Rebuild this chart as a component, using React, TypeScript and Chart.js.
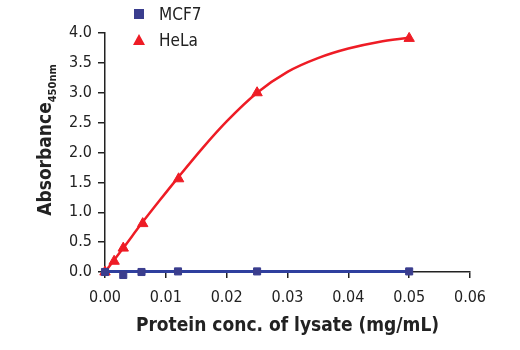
import React, { useEffect, useRef } from "react";
import { Chart, registerables } from "chart.js";

Chart.register(...registerables);

// Measured points
const mcf7Conc = [0, 0.003, 0.006, 0.012, 0.025, 0.05];
const mcf7Values = [0.0, -0.05, 0.0, 0.01, 0.01, 0.01];
const helaConc = [0, 0.0015, 0.003, 0.0062, 0.0121, 0.025, 0.05];
const helaValues = [0.0, 0.18, 0.4, 0.81, 1.56, 3.0, 3.91];
// Fitted curves
const mcf7FitConc = [0, 0.05];
const mcf7FitValues = [0.01, 0.01];
const helaFitConc = [0, 0.003, 0.006, 0.009, 0.012, 0.016, 0.02, 0.025, 0.03, 0.035, 0.04, 0.045, 0.05];
const helaFitValues = [0.0, 0.4, 0.81, 1.2, 1.58, 2.07, 2.52, 3.0, 3.35, 3.58, 3.74, 3.85, 3.92];
const xTicks = [0, 0.01, 0.02, 0.03, 0.04, 0.05, 0.06];
const yTicks = [0, 0.5, 1.0, 1.5, 2.0, 2.5, 3.0, 3.5, 4.0];
const seriesNames = ["MCF7", "HeLa"];

const BLUE = "#3a3d8e";
const BLUE_LINE = "#2f3f9e";
const RED = "#ee1c25";
const FONT = "'Liberation Sans Narrow', 'DejaVu Sans Condensed', 'Roboto', sans-serif";

export default function App() {
  const ref = useRef<HTMLCanvasElement | null>(null);

  useEffect(() => {
    document.body.style.margin = "0";
    const ctx = ref.current!.getContext("2d")!;
    const chart = new Chart(ctx, {
      type: "scatter",
      data: {
        datasets: [
          {
            label: seriesNames[0],
            data: mcf7Conc.map((x, i) => ({ x, y: mcf7Values[i] })),
            showLine: false,
            backgroundColor: BLUE,
            pointBackgroundColor: BLUE,
            pointBorderColor: BLUE,
            pointStyle: "rect",
            pointRadius: 5,
            pointBorderWidth: 1,
            clip: false as any,
          },
          {
            label: seriesNames[0] + " fit",
            data: mcf7FitConc.map((x, i) => ({ x, y: mcf7FitValues[i] })),
            showLine: true,
            borderColor: BLUE_LINE,
            borderWidth: 3,
            pointRadius: 0,
            clip: false as any,
          },
          {
            label: seriesNames[1],
            data: helaConc.map((x, i) => ({ x, y: helaValues[i] })),
            showLine: false,
            backgroundColor: RED,
            pointBackgroundColor: RED,
            pointBorderColor: RED,
            pointStyle: "triangle",
            pointRadius: 6,
            pointBorderWidth: 1,
            clip: false as any,
          },
          {
            label: seriesNames[1] + " fit",
            data: helaFitConc.map((x, i) => ({ x, y: helaFitValues[i] })),
            showLine: true,
            cubicInterpolationMode: "monotone",
            borderColor: RED,
            borderWidth: 2.5,
            pointRadius: 0,
            clip: false as any,
          },
        ],
      },
      options: {
        animation: false,
        responsive: false,
        maintainAspectRatio: false,
        layout: { padding: { left: 0, right: 50, top: 33, bottom: 0 } },
        plugins: {
          legend: { display: false },
          tooltip: { enabled: false },
        },
        scales: {
          x: {
            type: "linear",
            min: 0,
            max: 0.06,
            afterBuildTicks: (scale: any) => {
              scale.ticks = xTicks.map((v) => ({ value: v }));
            },
            afterFit: (scale: any) => {
              scale.height = 78;
            },
            grid: {
              drawOnChartArea: false,
              drawTicks: true,
              tickLength: 6,
              color: "#222",
              lineWidth: 1.5,
            },
            border: { color: "#222", width: 1.5 },
            ticks: {
              color: "#222",
              padding: 10,
              font: { family: FONT, size: 16 },
              callback: (v: any) => Number(v).toFixed(2),
            },
            title: {
              display: true,
              text: "Protein conc. of lysate (mg/mL)",
              color: "#222",
              font: { family: FONT, size: 19, weight: "bold" },
              padding: { top: 0, bottom: 13 },
            },
          },
          y: {
            type: "linear",
            min: 0,
            max: 4,
            afterBuildTicks: (scale: any) => {
              scale.ticks = yTicks.map((v) => ({ value: v }));
            },
            afterFit: (scale: any) => {
              scale.width = 105;
            },
            grid: {
              drawOnChartArea: false,
              drawTicks: true,
              tickLength: 7,
              color: "#222",
              lineWidth: 1.5,
            },
            border: { color: "#222", width: 1.5 },
            ticks: {
              color: "#222",
              padding: 6,
              font: { family: FONT, size: 16 },
              callback: (v: any) => Number(v).toFixed(1),
            },
          },
        },
      },
    } as any);
    return () => chart.destroy();
  }, []);

  return (
    <div style={{ position: "fixed", left: 0, top: 0, width: 520, height: 350, background: "#fff" }}>
      <canvas ref={ref} width={520} height={350} style={{ position: "absolute", left: 0, top: 0 }} />
      <div
        style={{
          position: "absolute",
          left: 44 - 110,
          top: 140 - 11,
          width: 220,
          height: 22,
          lineHeight: "22px",
          textAlign: "center",
          transform: "rotate(-90deg)",
          fontFamily: FONT,
          fontWeight: "bold",
          fontSize: 19,
          color: "#222",
          whiteSpace: "nowrap",
        }}
      >
        Absorbance<sub style={{ fontSize: 11 }}>450nm</sub>
      </div>
      <div style={{ position: "absolute", left: 134, top: 9, width: 10, height: 10, background: BLUE }} />
      <div
        style={{ position: "absolute", left: 159, top: 4, fontFamily: FONT, fontSize: 17, lineHeight: "20px", color: "#222" }}
      >
        {seriesNames[0]}
      </div>
      <div
        style={{
          position: "absolute",
          left: 133,
          top: 34,
          width: 0,
          height: 0,
          borderLeft: "6px solid transparent",
          borderRight: "6px solid transparent",
          borderBottom: "11px solid " + RED,
        }}
      />
      <div
        style={{ position: "absolute", left: 159, top: 30, fontFamily: FONT, fontSize: 17, lineHeight: "20px", color: "#222" }}
      >
        {seriesNames[1]}
      </div>
    </div>
  );
}
